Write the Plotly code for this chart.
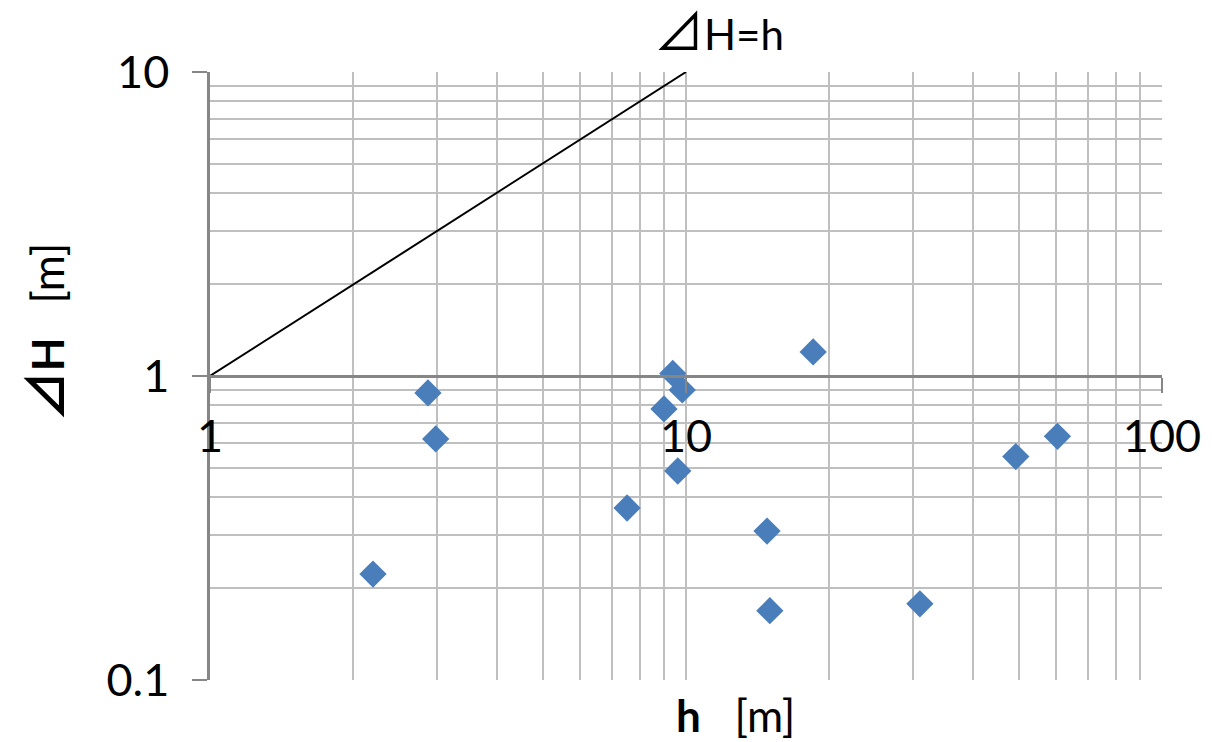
import plotly.graph_objects as go

# Data
h_vals = [2.20, 2.87, 2.98, 7.52, 8.99, 9.38, 9.82, 9.61, 18.5, 14.8, 15.0, 31.0, 49.3, 60.3]
dH_vals = [0.223, 0.88, 0.621, 0.368, 0.779, 1.02, 0.90, 0.487, 1.20, 0.309, 0.169, 0.178, 0.543, 0.633]
line_x = [1, 10]
line_y = [1, 10]

FONT = "Lato, 'Noto Sans CJK JP', 'DejaVu Sans', sans-serif"
TRI = '<span style="font-family:Noto Sans CJK JP;font-size:50px">⊿</span>'
GRID = "#bfbfbf"
AXIS = "#868686"

fig = go.Figure()
fig.add_trace(go.Scatter(x=line_x, y=line_y, mode="lines",
                         line=dict(color="black", width=2), cliponaxis=False,
                         showlegend=False, hoverinfo="skip"))
fig.add_trace(go.Scatter(x=h_vals, y=dH_vals, mode="markers",
                         marker=dict(symbol="diamond", size=21, color="#4a7ebb"),
                         showlegend=False))

fig.update_xaxes(type="log", range=[0, 2], dtick=1, tick0=0,
                 showgrid=True, gridcolor=GRID, gridwidth=1.5,
                 minor=dict(dtick="D1", showgrid=True, gridcolor=GRID, gridwidth=1.5, ticks=""),
                 anchor="free", position=0.5,
                 showline=True, linecolor=AXIS, linewidth=2.5,
                 ticks="outside", ticklen=15, tickwidth=2, tickcolor=AXIS,
                 tickfont=dict(family=FONT, size=45, color="black"),
                 ticklabelstandoff=5, zeroline=False)
fig.update_yaxes(type="log", range=[-1, 1], dtick=1, tick0=0,
                 showgrid=True, gridcolor=GRID, gridwidth=1.5,
                 minor=dict(dtick="D1", showgrid=True, gridcolor=GRID, gridwidth=1.5, ticks=""),
                 showline=True, linecolor=AXIS, linewidth=2.5,
                 ticks="outside", ticklen=15, tickwidth=2, tickcolor=AXIS,
                 tickfont=dict(family=FONT, size=45, color="black"),
                 ticklabelstandoff=14, zeroline=False)

fig.add_annotation(text=TRI + "H=h", xref="paper", yref="paper", x=0.535, y=1.0,
                   xanchor="center", yanchor="bottom", yshift=6, showarrow=False,
                   font=dict(family=FONT, size=42, color="black"))
fig.add_annotation(text="<b>h</b>&nbsp;&nbsp;&nbsp;[m]", xref="paper", yref="paper", x=0.552, y=0,
                   xanchor="center", yanchor="middle", yshift=-35, showarrow=False,
                   font=dict(family=FONT, size=44, color="black"))
fig.add_annotation(text="<b>" + TRI + "H</b>&nbsp;&nbsp;&nbsp;[m]", xref="paper", yref="paper",
                   x=0, y=0.572, xanchor="center", yanchor="middle", xshift=-168, textangle=-90,
                   showarrow=False, font=dict(family=FONT, size=44, color="black"))

fig.update_layout(width=1204, height=734, plot_bgcolor="white", paper_bgcolor="white",
                  margin=dict(l=202, r=50, t=64, b=62))
fig.write_html("out.html")
